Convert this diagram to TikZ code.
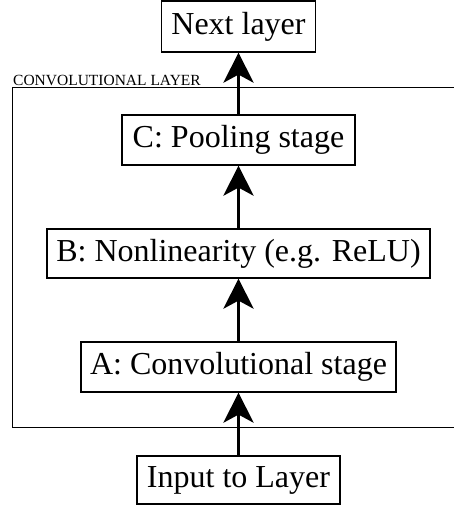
\documentclass[tikz,border=0pt]{standalone}
\usepackage{fontspec}
\setmainfont{Liberation Serif}
\usetikzlibrary{arrows.meta}
\begin{document}
\begin{tikzpicture}[x=1pt,y=-1pt,
  stagebox/.style={draw,line width=1.2pt,inner sep=0pt,font=\fontsize{32}{38}\selectfont},
  flow/.style={line width=3.6pt,-{Stealth[length=30pt,width=30pt,inset=8pt]}}]
\useasboundingbox (0,0) rectangle (454,507);
\clip (0,0) rectangle (454,507);
% outer layer frame
\draw[line width=1pt] (480,87) -- (12,87) -- (12,427) -- (480,427);
\node[anchor=base west,inner sep=0pt,font=\fontsize{15.5}{18}\selectfont] (lbl) at (13,85) {CONVOLUTIONAL LAYER};
% boxes
\node[stagebox,minimum width=154pt,minimum height=51pt] (next) at (238.5,26.5) {Next layer};
\node[stagebox,minimum width=233pt,minimum height=50pt] (C) at (238.5,140) {C: Pooling stage};
\node[stagebox,minimum width=383pt,minimum height=49pt] (B) at (238.5,253.5) {B: Nonlinearity (e.g. ReLU)};
\node[stagebox,minimum width=315pt,minimum height=50pt] (A) at (238.5,367) {A: Convolutional stage};
\node[stagebox,minimum width=203pt,minimum height=48pt] (in) at (238.5,480) {Input to Layer};
% arrows
\draw[flow] (in.north) -- (A.south);
\draw[flow] (A.north) -- (B.south);
\draw[flow] (B.north) -- (C.south);
\draw[flow] (C.north) -- (next.south);
\end{tikzpicture}
\end{document}
